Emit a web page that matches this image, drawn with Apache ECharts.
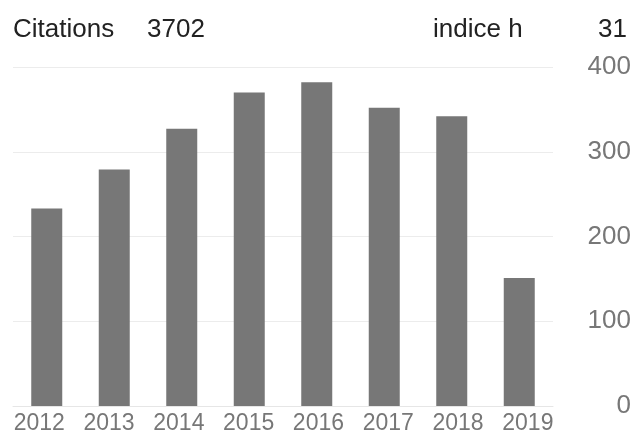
<!DOCTYPE html>
<html><head><meta charset="utf-8">
<script src="https://cdn.jsdelivr.net/npm/echarts@6/dist/echarts.min.js"></script>
<style>html,body{margin:0;padding:0;background:#fff}#c{width:635px;height:435px}</style>
</head><body><div id="c"></div>
<script>
var years = ['2012','2013','2014','2015','2016','2017','2018','2019'];
var citations = [233, 279, 327, 370, 382, 352, 342, 151];
var yTicks = [0, 100, 200, 300, 400];
var headerLabels = ['Citations', '3702', 'indice h', '31'];

var chart = echarts.init(document.getElementById('c'), null, {renderer:'canvas'});
var font = '"Liberation Sans", Arial, sans-serif';
// labels in the reference are spread slightly wider than the bars
var yearItems = years.map(function (y, i) {
  var d = -7.5 + 2.3 * i;
  var pad = d < 0 ? [0, -2 * d, 0, 0] : [0, 0, 0, 2 * d];
  return {value: y, textStyle: {padding: pad}};
});
chart.setOption({
  animation: false,
  backgroundColor: '#fff',
  grid: {left: 13, right: 82, top: 67, bottom: 27},
  xAxis: {
    type: 'category', data: yearItems,
    axisLine: {show: true, lineStyle: {color: '#e6e6e6'}},
    axisTick: {show: false},
    axisLabel: {color: '#777', fontSize: 23, fontFamily: 'Liberation Sans', margin: 6}
  },
  yAxis: {
    type: 'value', position: 'right', min: yTicks[0], max: yTicks[yTicks.length-1], interval: 100,
    splitLine: {lineStyle: {color: '#ececec', width: 1}},
    axisLine: {show: false}, axisTick: {show: false},
    axisLabel: {color: '#777', fontSize: 26, fontFamily: 'Liberation Sans', align: 'right', margin: 78,
      padding: [6, 0, 0, 0]}
  },
  series: [{
    type: 'bar', data: citations, barWidth: 31,
    itemStyle: {color: '#777777'}
  }],
  graphic: [
    {type:'text', left: 13, top: 17, style:{text: headerLabels[0], fill:'#222', font: '26px ' + font}},
    {type:'text', left: 147, top: 17, style:{text: headerLabels[1], fill:'#222', font: '26px ' + font}},
    {type:'text', left: 433, top: 17, style:{text: headerLabels[2], fill:'#222', font: '26px ' + font}},
    {type:'text', left: 598, top: 17, style:{text: headerLabels[3], fill:'#222', font: '26px ' + font}}
  ]
});
</script></body></html>
